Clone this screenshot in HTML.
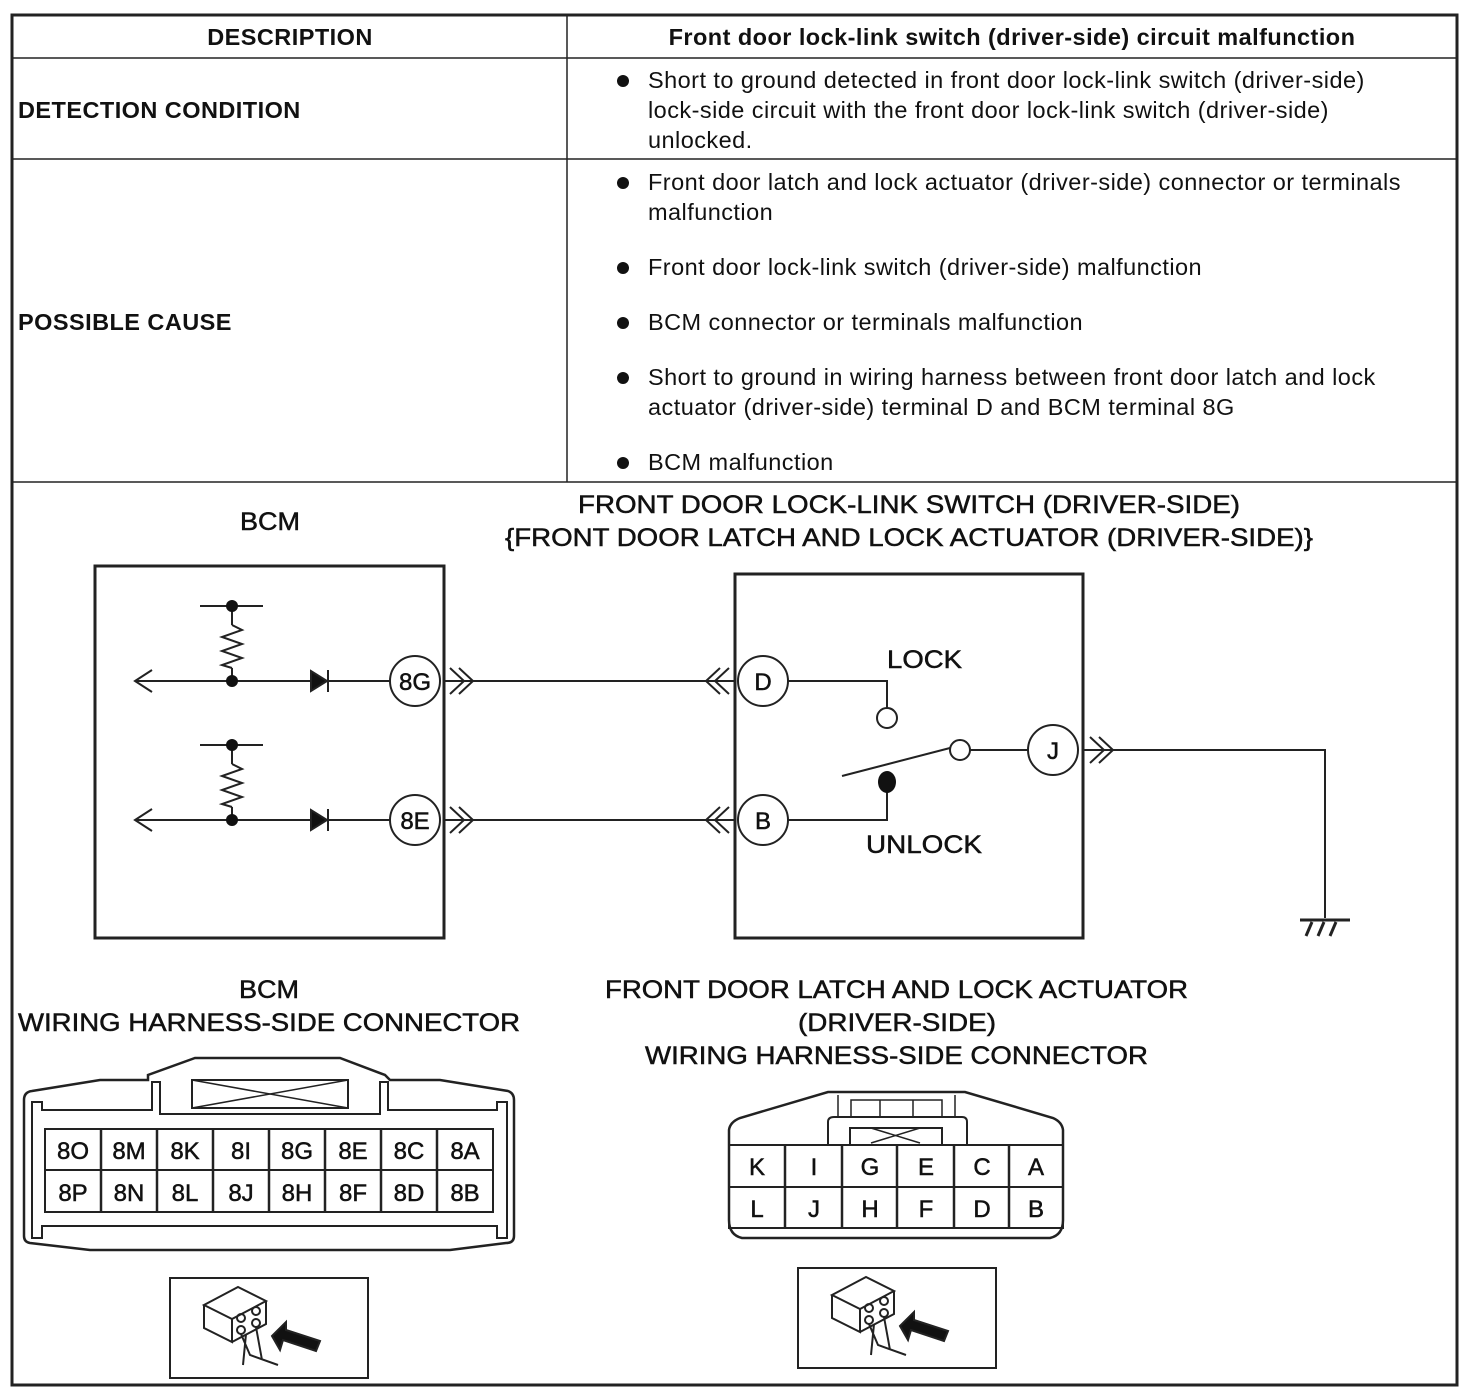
<!DOCTYPE html>
<html><head><meta charset="utf-8"><style>
body{margin:0;background:#fff}
svg{display:block}
text{font-family:"Liberation Sans",Arial,sans-serif;fill:#111}
.d text{stroke:#111;stroke-width:0.5}
</style></head><body>
<svg width="1470" height="1398" viewBox="0 0 1470 1398" xmlns="http://www.w3.org/2000/svg">
<g stroke="#222" fill="none">
<rect x="12" y="15" width="1445" height="1370" stroke-width="3"/>
<line x1="12" y1="58" x2="1457" y2="58" stroke-width="1.5"/>
<line x1="12" y1="159" x2="1457" y2="159" stroke-width="1.5"/>
<line x1="12" y1="482" x2="1457" y2="482" stroke-width="1.5"/>
<line x1="567" y1="15" x2="567" y2="482" stroke-width="1.5"/>
</g>
<g font-size="23.5" letter-spacing="0.45">
<text x="290" y="45" text-anchor="middle" font-weight="bold">DESCRIPTION</text>
<text x="1012" y="45" text-anchor="middle" font-weight="bold">Front door lock-link switch (driver-side) circuit malfunction</text>
<text x="18" y="118" font-weight="bold">DETECTION CONDITION</text>
<text x="18" y="330" font-weight="bold">POSSIBLE CAUSE</text>
<text x="648" y="88">Short to ground detected in front door lock-link switch (driver-side)</text>
<text x="648" y="118">lock-side circuit with the front door lock-link switch (driver-side)</text>
<text x="648" y="148">unlocked.</text>
<text x="648" y="190">Front door latch and lock actuator (driver-side) connector or terminals</text>
<text x="648" y="220">malfunction</text>
<text x="648" y="275">Front door lock-link switch (driver-side) malfunction</text>
<text x="648" y="330">BCM connector or terminals malfunction</text>
<text x="648" y="385">Short to ground in wiring harness between front door latch and lock</text>
<text x="648" y="415">actuator (driver-side) terminal D and BCM terminal 8G</text>
<text x="648" y="470">BCM malfunction</text>
</g>
<g fill="#111">
<circle cx="623" cy="81" r="6"/><circle cx="623" cy="183" r="6"/><circle cx="623" cy="268" r="6"/>
<circle cx="623" cy="323" r="6"/><circle cx="623" cy="378" r="6"/><circle cx="623" cy="463" r="6"/>
</g>
<g class="d" font-size="25">
<text x="240" y="530" textLength="60" lengthAdjust="spacingAndGlyphs">BCM</text>
<text x="578" y="513" textLength="662" lengthAdjust="spacingAndGlyphs">FRONT DOOR LOCK-LINK SWITCH (DRIVER-SIDE)</text>
<text x="505" y="546" textLength="808" lengthAdjust="spacingAndGlyphs">{FRONT DOOR LATCH AND LOCK ACTUATOR (DRIVER-SIDE)}</text>
<text x="887" y="668" textLength="75" lengthAdjust="spacingAndGlyphs">LOCK</text>
<text x="866" y="853" textLength="116" lengthAdjust="spacingAndGlyphs">UNLOCK</text>
<text x="239" y="998" textLength="60" lengthAdjust="spacingAndGlyphs">BCM</text>
<text x="18" y="1031" textLength="502" lengthAdjust="spacingAndGlyphs">WIRING HARNESS-SIDE CONNECTOR</text>
<text x="605" y="998" textLength="583" lengthAdjust="spacingAndGlyphs">FRONT DOOR LATCH AND LOCK ACTUATOR</text>
<text x="798" y="1031" textLength="198" lengthAdjust="spacingAndGlyphs">(DRIVER-SIDE)</text>
<text x="645" y="1064" textLength="503" lengthAdjust="spacingAndGlyphs">WIRING HARNESS-SIDE CONNECTOR</text>
</g>
<g stroke="#222" fill="none" stroke-width="2">
<rect x="95" y="566" width="349" height="372" stroke-width="3"/>
<rect x="735" y="574" width="348" height="364" stroke-width="3"/>
<g id="c1">
<line x1="200" y1="606" x2="263" y2="606"/>
<line x1="232" y1="606" x2="232" y2="625"/>
<polyline points="232,625 242,630 222,637 242,644 222,651 242,658 222,665 232,668"/>
<line x1="232" y1="668" x2="232" y2="681"/>
<line x1="135" y1="681" x2="390" y2="681"/>
<polyline points="152,670 135,681 152,692"/>
<polygon points="311,671 311,691 327,681" fill="#111"/>
<line x1="328" y1="670" x2="328" y2="692"/>
<polyline points="450,668 464,681 450,694"/><polyline points="459,668 473,681 459,694"/>
<line x1="444" y1="681" x2="735" y2="681"/>
<polyline points="720,668 706,681 720,694"/><polyline points="729,668 715,681 729,694"/>
</g>
<use href="#c1" y="139"/>
<circle cx="415" cy="681" r="25" fill="#fff"/>
<circle cx="415" cy="820" r="25" fill="#fff"/>
<circle cx="763" cy="681" r="25" fill="#fff"/>
<circle cx="763" cy="820" r="25" fill="#fff"/>
<circle cx="1053" cy="750" r="25" fill="#fff"/>
<polyline points="788,681 887,681 887,708"/>
<circle cx="887" cy="718" r="10"/>
<polyline points="788,820 887,820 887,785"/>
<line x1="842" y1="776" x2="950" y2="748"/>
<circle cx="960" cy="750" r="10"/>
<line x1="970" y1="750" x2="1028" y2="750"/>
<polyline points="1090,737 1104,750 1090,763"/><polyline points="1099,737 1113,750 1099,763"/>
<polyline points="1083,750 1325,750 1325,918"/>
<line x1="1300" y1="920" x2="1350" y2="920" stroke-width="3"/>
<line x1="1312" y1="922" x2="1306" y2="936" stroke-width="3"/><line x1="1324" y1="922" x2="1318" y2="936" stroke-width="3"/><line x1="1336" y1="922" x2="1330" y2="936" stroke-width="3"/>
</g>
<g fill="#111">
<circle cx="232" cy="606" r="6"/><circle cx="232" cy="681" r="6"/>
<circle cx="232" cy="745" r="6"/><circle cx="232" cy="820" r="6"/>
<ellipse cx="887" cy="782" rx="9" ry="11"/>
</g>
<g class="d" font-size="24" text-anchor="middle">
<text x="415" y="690">8G</text><text x="415" y="829">8E</text>
<text x="763" y="690">D</text><text x="763" y="829">B</text><text x="1053" y="759">J</text>
</g>
<g stroke="#222" fill="none" stroke-width="2.5">
<path d="M24,1100 Q24,1092 32,1091 L100,1080 L148,1080 L148,1075 L195,1058 L340,1058 L385,1075 L390,1080 L440,1080 L508,1091 Q514,1093 514,1100 L514,1236 Q514,1243 506,1243 L450,1250 L90,1250 L30,1243 Q24,1242 24,1236 Z"/>
<path d="M32,1102 L42,1102 L42,1110 L152,1110 L152,1082 L160,1082 L160,1114 L380,1114 L380,1082 L388,1082 L388,1110 L497,1110 L497,1102 L507,1102 L507,1238 L497,1238 L497,1226 L42,1226 L42,1238 L32,1238 Z" stroke-width="2"/>
<rect x="192" y="1080" width="156" height="28" stroke-width="2"/>
<line x1="192" y1="1080" x2="348" y2="1108" stroke-width="1.5"/><line x1="348" y1="1080" x2="192" y2="1108" stroke-width="1.5"/>
<rect x="45" y="1129" width="448" height="83" stroke-width="2"/>
<line x1="45" y1="1170" x2="493" y2="1170" stroke-width="2"/>
<line x1="101" y1="1129" x2="101" y2="1212"/><line x1="157" y1="1129" x2="157" y2="1212"/><line x1="213" y1="1129" x2="213" y2="1212"/><line x1="269" y1="1129" x2="269" y2="1212"/><line x1="325" y1="1129" x2="325" y2="1212"/><line x1="381" y1="1129" x2="381" y2="1212"/><line x1="437" y1="1129" x2="437" y2="1212"/>
</g>
<g class="d" font-size="24" text-anchor="middle">
<text x="73" y="1159">8O</text><text x="129" y="1159">8M</text><text x="185" y="1159">8K</text><text x="241" y="1159">8I</text><text x="297" y="1159">8G</text><text x="353" y="1159">8E</text><text x="409" y="1159">8C</text><text x="465" y="1159">8A</text>
<text x="73" y="1201">8P</text><text x="129" y="1201">8N</text><text x="185" y="1201">8L</text><text x="241" y="1201">8J</text><text x="297" y="1201">8H</text><text x="353" y="1201">8F</text><text x="409" y="1201">8D</text><text x="465" y="1201">8B</text>
</g>
<g stroke="#222" fill="none" stroke-width="2.5">
<path d="M729,1145 L729,1130 Q730,1122 740,1118 L828,1092 L965,1092 L1053,1118 Q1062,1122 1063,1130 L1063,1220 Q1063,1235 1050,1238 L742,1238 Q729,1235 729,1220 Z"/>
<rect x="729" y="1145" width="334" height="83" stroke-width="2"/>
<line x1="729" y1="1187" x2="1063" y2="1187" stroke-width="2"/>
<line x1="785" y1="1145" x2="785" y2="1228"/><line x1="842" y1="1145" x2="842" y2="1228"/><line x1="897" y1="1145" x2="897" y2="1228"/><line x1="954" y1="1145" x2="954" y2="1228"/><line x1="1009" y1="1145" x2="1009" y2="1228"/>
<path d="M828,1145 L828,1122 Q828,1117 834,1117 L962,1117 Q967,1117 967,1122 L967,1145" stroke-width="2"/>
<path d="M850,1145 L850,1128 L942,1128 L942,1145" stroke-width="2"/>
<line x1="871" y1="1128" x2="920" y2="1143" stroke-width="1.5"/><line x1="920" y1="1128" x2="871" y2="1143" stroke-width="1.5"/>
<path d="M838,1117 L838,1095 M955,1117 L955,1095 M851,1117 L851,1100 L942,1100 L942,1117 M880,1100 L880,1117 M913,1100 L913,1117" stroke-width="1.5"/>
</g>
<g class="d" font-size="24" text-anchor="middle">
<text x="757" y="1175">K</text><text x="814" y="1175">I</text><text x="870" y="1175">G</text><text x="926" y="1175">E</text><text x="982" y="1175">C</text><text x="1036" y="1175">A</text>
<text x="757" y="1217">L</text><text x="814" y="1217">J</text><text x="870" y="1217">H</text><text x="926" y="1217">F</text><text x="982" y="1217">D</text><text x="1036" y="1217">B</text>
</g>
<g id="ic" stroke="#222" fill="none" stroke-width="2">
<rect x="170" y="1278" width="198" height="100"/>
<path d="M204,1305 L238,1287 L266,1301 L232,1319 Z M204,1305 L204,1328 L232,1342 L232,1319 M266,1301 L266,1324 L232,1342"/>
<circle cx="241" cy="1318" r="4"/><circle cx="256" cy="1311" r="4"/><circle cx="241" cy="1330" r="4"/><circle cx="256" cy="1323" r="4"/>
<path d="M241,1334 L250,1355 L278,1365 M256,1327 L262,1360 M246,1334 L243,1365"/>
<polygon points="272,1336 286,1322 286,1330 320,1341 316,1351 283,1340 280,1350" fill="#111"/>
</g>
<use href="#ic" x="628" y="-10"/>
</svg>
</body></html>
